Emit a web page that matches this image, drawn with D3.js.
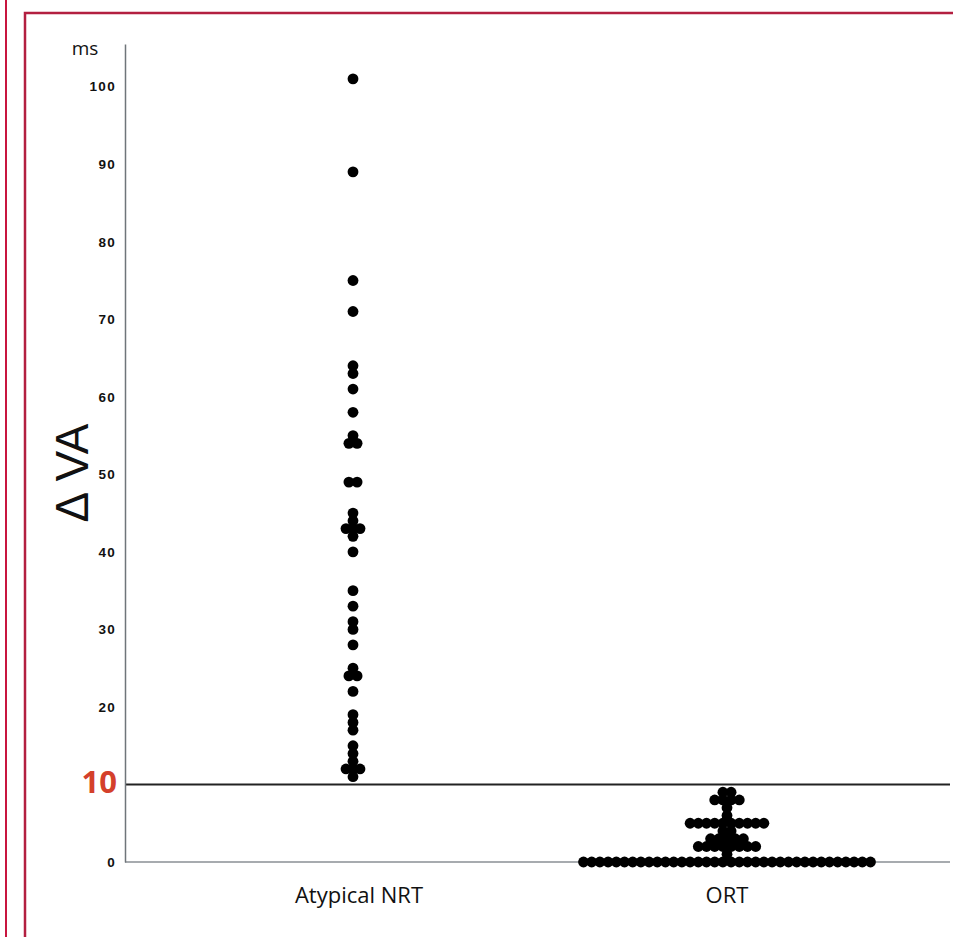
<!DOCTYPE html>
<html lang="en">

<head>
    <meta charset="utf-8">
    <title>Delta VA dot plot</title>
    <script src="https://d3js.org/d3.v7.min.js"></script>
    <style type="text/css">
        body { margin: 0; background: #fff; }
        svg { display: block; }
    </style>
</head>

<body>
    <script type="text/javascript">

        // categories and values (ms)
        var categories = ["Atypical NRT", "ORT"];

        var nrtValues = [101, 89, 75, 71, 64, 63, 61, 58, 55, 54, 54, 49, 49,
            45, 44, 43, 43, 43, 42, 40, 35, 33, 31, 30, 28, 25, 24, 24, 22,
            19, 18, 17, 15, 14, 13, 12, 12, 12, 11];

        var ortValues = [0, 0, 0, 0, 0, 0, 0, 0, 0, 0, 0, 0, 0, 0, 0, 0, 0, 0,
            0, 0, 0, 0, 0, 0, 0, 0, 0, 0, 0, 0, 0, 0, 0, 0, 0, 0,
            1,
            2, 2, 2, 2, 2, 2, 2, 2,
            3, 3, 3, 3, 3,
            4, 4,
            5, 5, 5, 5, 5, 5, 5, 5, 5, 5,
            6, 7,
            8, 8, 8, 8,
            9, 9];

        var tickValues = [0, 20, 30, 40, 50, 60, 70, 80, 90, 100];
        var cutoff = 10;

        var w = 953,
            h = 937,
            r = 5.4,
            dotStep = 8.2;

        var svg = d3.select("body")
            .append("svg")
            .attr("width", w)
            .attr("height", h);

        // red page frame
        svg.append("line")
            .attr("x1", 6).attr("x2", 6).attr("y1", 0).attr("y2", h)
            .attr("stroke", "#c8153f").attr("stroke-width", 2);
        svg.append("path")
            .attr("d", "M25," + h + "V13H" + w)
            .attr("fill", "none")
            .attr("stroke", "#b31f40").attr("stroke-width", 2.5);

        var yScale = d3.scaleLinear()
            .domain([0, 105.5])
            .range([862, 44]);

        var xScale = d3.scalePoint()
            .domain(categories)
            .range([353, 727]);

        // x axis line and cutoff line
        svg.append("line")
            .attr("x1", 125).attr("x2", 950)
            .attr("y1", yScale(0)).attr("y2", yScale(0))
            .attr("stroke", "#8a8f94").attr("stroke-width", 1.5);

        svg.append("line")
            .attr("x1", 125).attr("x2", 950)
            .attr("y1", yScale(cutoff)).attr("y2", yScale(cutoff))
            .attr("stroke", "#222").attr("stroke-width", 2);

        // y axis
        var yAxis = d3.axisLeft(yScale)
            .tickValues(tickValues)
            .tickSize(0)
            .tickSizeOuter(0)
            .tickPadding(9)
            .tickFormat(d3.format("d"));

        var gy = svg.append("g")
            .attr("transform", "translate(125,0)")
            .call(yAxis);
        gy.select(".domain")
            .attr("stroke", "#6f757a")
            .attr("stroke-width", 1.5);
        gy.selectAll("text")
            .attr("font-family", "Liberation Sans, Arial, sans-serif")
            .attr("font-weight", "bold")
            .attr("font-size", "13.5px")
            .attr("letter-spacing", "1.3px")
            .attr("fill", "#111");

        // highlighted 10
        svg.append("text")
            .attr("x", 117)
            .attr("y", yScale(cutoff) + 9)
            .attr("text-anchor", "end")
            .attr("font-family", "Open Sans, sans-serif")
            .attr("font-weight", "bold")
            .attr("font-size", "31px")
            .attr("fill", "#d4402b")
            .text(cutoff);

        // units
        svg.append("text")
            .attr("x", 85)
            .attr("y", 55)
            .attr("text-anchor", "middle")
            .attr("font-family", "Open Sans, sans-serif")
            .attr("font-size", "19px")
            .attr("fill", "#111")
            .text("ms");

        // y title
        svg.append("text")
            .attr("transform", "translate(88,473) rotate(-90)")
            .attr("text-anchor", "middle")
            .attr("font-family", "Liberation Sans, Arial, sans-serif")
            .attr("font-size", "46px")
            .attr("fill", "#111")
            .text("\u0394 VA");

        // category labels
        svg.selectAll("text.cat").data(categories)
            .enter()
            .append("text")
            .attr("class", "cat")
            .attr("x", function (d, i) {
                return xScale(d) + (i === 0 ? 6 : 0);
            })
            .attr("y", 903)
            .attr("text-anchor", "middle")
            .attr("font-family", "Open Sans, sans-serif")
            .attr("font-size", "22px")
            .attr("fill", "#111")
            .text(function (d) { return d; });

        // build dot positions: rows of equal value centered on category
        function layout(values, cat) {
            var groups = d3.group(values, function (v) { return v; });
            var pts = [];
            groups.forEach(function (arr, v) {
                var n = arr.length;
                var step = n === 3 ? 7 : dotStep;
                arr.forEach(function (_, i) {
                    pts.push({
                        v: v,
                        x: xScale(cat) + (i - (n - 1) / 2) * step
                    });
                });
            });
            return pts;
        }

        var points = layout(nrtValues, categories[0])
            .concat(layout(ortValues, categories[1]));

        svg.selectAll("circle").data(points)
            .enter()
            .append("circle")
            .attr("cx", function (d) { return d.x; })
            .attr("cy", function (d) { return yScale(d.v); })
            .attr("r", r)
            .attr("fill", "#000");

    </script>
</body>

</html>
